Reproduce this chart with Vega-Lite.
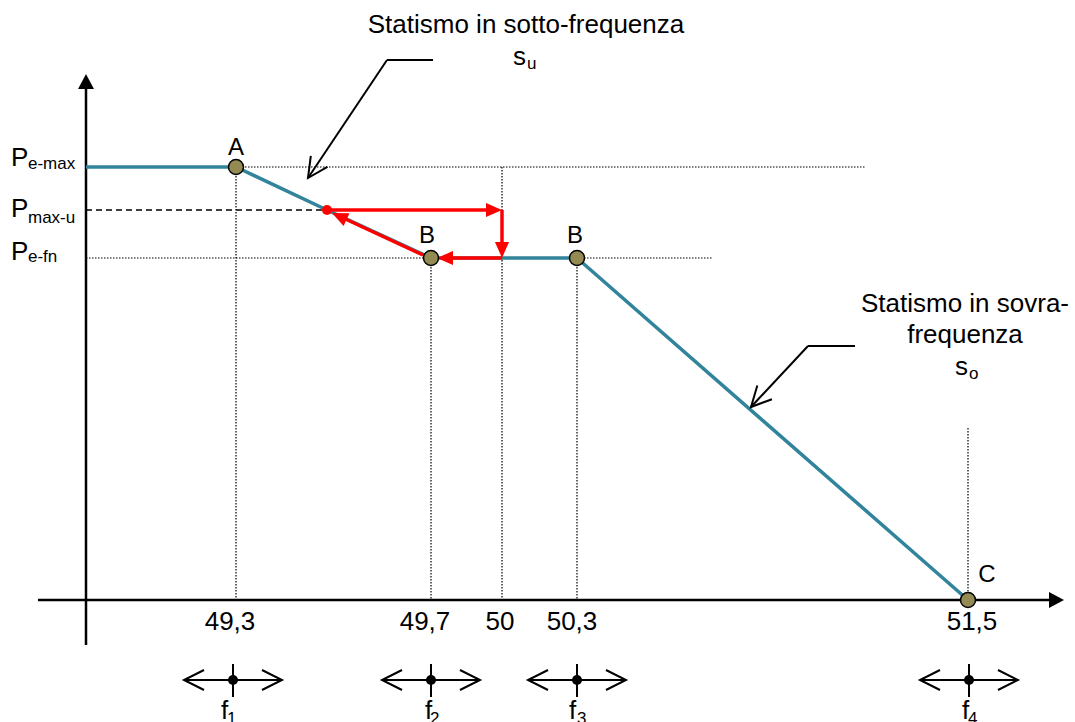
{
  "$schema": "https://vega.github.io/schema/vega-lite/v6.json",
  "width": 1075,
  "height": 722,
  "autosize": "none",
  "padding": 0,
  "background": "white",
  "config": {"view": {"stroke": null}},
  "datasets": {
    "dotted": [
      {"x": 150, "y": 433, "x2": 779, "y2": 433},
      {"x": 0, "y": 342, "x2": 627, "y2": 342},
      {"x": 150, "y": 433, "x2": 150, "y2": 0},
      {"x": 345, "y": 342, "x2": 345, "y2": 0},
      {"x": 416, "y": 433, "x2": 416, "y2": 0},
      {"x": 491, "y": 342, "x2": 491, "y2": 0},
      {"x": 882, "y": 172, "x2": 882, "y2": 0}
    ],
    "dashed": [
      {"x": 0, "y": 390, "x2": 324, "y2": 390}
    ],
    "axes": [
      {"x": 0, "y": -45, "x2": 0, "y2": 515},
      {"x": -48, "y": 0, "x2": 966, "y2": 0}
    ],
    "axisHeads": [
      {"x": 0, "y": 526, "a": -90},
      {"x": 978, "y": 0, "a": 0}
    ],
    "curve": [
      {"x": 0, "y": 433},
      {"x": 150, "y": 433},
      {"x": 241, "y": 390},
      {"x": 345, "y": 342},
      {"x": 416, "y": 342},
      {"x": 491, "y": 342},
      {"x": 882, "y": 0}
    ],
    "red": [
      {"x": 241, "y": 390, "x2": 406, "y2": 390},
      {"x": 416, "y": 390, "x2": 416, "y2": 352},
      {"x": 416, "y": 342, "x2": 361, "y2": 342},
      {"x": 337, "y": 345, "x2": 255, "y2": 383}
    ],
    "redHeads": [
      {"x": 416, "y": 390, "a": 0},
      {"x": 416, "y": 342, "a": 90},
      {"x": 351, "y": 342, "a": 180},
      {"x": 246, "y": 387, "a": 204.8}
    ],
    "redDot": [
      {"x": 241, "y": 390}
    ],
    "markers": [
      {"x": 150, "y": 433, "name": "A"},
      {"x": 345, "y": 342, "name": "B"},
      {"x": 491, "y": 342, "name": "B"},
      {"x": 882, "y": 0, "name": "C"}
    ],
    "callouts": [
      {"x": 347, "y": 540, "x2": 301, "y2": 540},
      {"x": 301, "y": 540, "x2": 222, "y2": 422},
      {"x": 769, "y": 254, "x2": 722, "y2": 254},
      {"x": 722, "y": 254, "x2": 665, "y2": 193}
    ],
    "openHeads": [
      {"x": 222, "y": 422, "a": 123.8},
      {"x": 665, "y": 193, "a": 133},
      {"x": 98, "y": -80, "a": 180},
      {"x": 196, "y": -80, "a": 0},
      {"x": 296, "y": -80, "a": 180},
      {"x": 394, "y": -80, "a": 0},
      {"x": 442, "y": -80, "a": 180},
      {"x": 540, "y": -80, "a": 0},
      {"x": 834, "y": -80, "a": 180},
      {"x": 932, "y": -80, "a": 0}
    ],
    "freqBars": [
      {"x": 98, "y": -80, "x2": 196, "y2": -80},
      {"x": 147, "y": -64, "x2": 147, "y2": -97},
      {"x": 296, "y": -80, "x2": 394, "y2": -80},
      {"x": 345, "y": -64, "x2": 345, "y2": -97},
      {"x": 442, "y": -80, "x2": 540, "y2": -80},
      {"x": 491, "y": -64, "x2": 491, "y2": -97},
      {"x": 834, "y": -80, "x2": 932, "y2": -80},
      {"x": 883, "y": -64, "x2": 883, "y2": -97}
    ],
    "freqDots": [
      {"x": 147, "y": -80},
      {"x": 345, "y": -80},
      {"x": 491, "y": -80},
      {"x": 883, "y": -80}
    ],
    "texts": [
      {"role": "bigc", "x": 440, "y": 567, "t": "Statismo in sotto-frequenza"},
      {"role": "bigc", "x": 879, "y": 288, "t": "Statismo in sovra-"},
      {"role": "bigc", "x": 879, "y": 257, "t": "frequenza"},
      {"role": "bigc", "x": 144, "y": -30, "t": "49,3"},
      {"role": "bigc", "x": 339, "y": -30, "t": "49,7"},
      {"role": "bigc", "x": 414, "y": -30, "t": "50"},
      {"role": "bigc", "x": 486, "y": -30, "t": "50,3"},
      {"role": "bigc", "x": 886, "y": -30, "t": "51,5"},
      {"role": "bigl", "x": 427, "y": 535, "t": "s"},
      {"role": "bigl", "x": 869, "y": 225, "t": "s"},
      {"role": "bigl", "x": -75, "y": 434, "t": "P"},
      {"role": "bigl", "x": -75, "y": 383, "t": "P"},
      {"role": "bigl", "x": -75, "y": 340, "t": "P"},
      {"role": "bigl", "x": 135, "y": -119, "t": "f"},
      {"role": "bigl", "x": 339, "y": -119, "t": "f"},
      {"role": "bigl", "x": 483, "y": -119, "t": "f"},
      {"role": "bigl", "x": 876, "y": -119, "t": "f"},
      {"role": "sub", "x": 441, "y": 531, "t": "u"},
      {"role": "sub", "x": 883, "y": 221, "t": "o"},
      {"role": "sub", "x": -58, "y": 431, "t": "e-max"},
      {"role": "sub", "x": -58, "y": 377, "t": "max-u"},
      {"role": "sub", "x": -58, "y": 338, "t": "e-fn"},
      {"role": "sub", "x": 141, "y": -124, "t": "1"},
      {"role": "sub", "x": 344, "y": -124, "t": "2"},
      {"role": "sub", "x": 491, "y": -124, "t": "3"},
      {"role": "sub", "x": 882, "y": -124, "t": "4"},
      {"role": "pt", "x": 150, "y": 445, "t": "A"},
      {"role": "pt", "x": 341, "y": 357, "t": "B"},
      {"role": "pt", "x": 489, "y": 357, "t": "B"},
      {"role": "pt", "x": 901, "y": 18, "t": "C"}
    ]
  },
  "encoding": {
    "x": {"field": "x", "type": "quantitative", "scale": {"domain": [-86, 989], "nice": false, "zero": false}, "axis": null},
    "y": {"field": "y", "type": "quantitative", "scale": {"domain": [-122, 600], "nice": false, "zero": false}, "axis": null}
  },
  "layer": [
    {
      "data": {"name": "dotted"},
      "mark": {"type": "rule", "color": "#000000", "strokeWidth": 1.2, "strokeDash": [1.5, 1.5]},
      "encoding": {"x2": {"field": "x2"}, "y2": {"field": "y2"}}
    },
    {
      "data": {"name": "dashed"},
      "mark": {"type": "rule", "color": "#000000", "strokeWidth": 1.5, "strokeDash": [6, 4]},
      "encoding": {"x2": {"field": "x2"}, "y2": {"field": "y2"}}
    },
    {
      "data": {"name": "axes"},
      "mark": {"type": "rule", "color": "#000000", "strokeWidth": 2.5},
      "encoding": {"x2": {"field": "x2"}, "y2": {"field": "y2"}}
    },
    {
      "data": {"name": "axisHeads"},
      "mark": {"type": "point", "shape": "M0,0L-1,-0.53L-1,0.53Z", "filled": true, "fill": "#000000", "strokeWidth": 0, "size": 900, "opacity": 1},
      "encoding": {"angle": {"field": "a", "type": "quantitative", "scale": null}}
    },
    {
      "data": {"name": "curve"},
      "mark": {"type": "line", "color": "#31849B", "strokeWidth": 3.5, "strokeJoin": "round"},
      "encoding": {"order": {"field": "x", "type": "quantitative"}}
    },
    {
      "data": {"name": "red"},
      "mark": {"type": "rule", "color": "#FF0000", "strokeWidth": 3.5},
      "encoding": {"x2": {"field": "x2"}, "y2": {"field": "y2"}}
    },
    {
      "data": {"name": "redHeads"},
      "mark": {"type": "point", "shape": "M0,0L-1,-0.44L-1,0.44Z", "filled": true, "fill": "#FF0000", "strokeWidth": 0, "size": 1024, "opacity": 1},
      "encoding": {"angle": {"field": "a", "type": "quantitative", "scale": null}}
    },
    {
      "data": {"name": "redDot"},
      "mark": {"type": "point", "shape": "circle", "filled": true, "fill": "#FF0000", "strokeWidth": 0, "size": 100, "opacity": 1}
    },
    {
      "data": {"name": "markers"},
      "mark": {"type": "point", "shape": "circle", "filled": true, "fill": "#948A54", "stroke": "#000000", "strokeWidth": 1.5, "size": 225, "opacity": 1}
    },
    {
      "data": {"name": "callouts"},
      "mark": {"type": "rule", "color": "#000000", "strokeWidth": 2},
      "encoding": {"x2": {"field": "x2"}, "y2": {"field": "y2"}}
    },
    {
      "data": {"name": "freqBars"},
      "mark": {"type": "rule", "color": "#000000", "strokeWidth": 2},
      "encoding": {"x2": {"field": "x2"}, "y2": {"field": "y2"}}
    },
    {
      "data": {"name": "openHeads"},
      "mark": {"type": "point", "shape": "M-1,-0.5L0,0L-1,0.5", "filled": false, "fill": null, "stroke": "#000000", "strokeWidth": 2, "size": 1600, "opacity": 1},
      "encoding": {"angle": {"field": "a", "type": "quantitative", "scale": null}}
    },
    {
      "data": {"name": "freqDots"},
      "mark": {"type": "point", "shape": "circle", "filled": true, "fill": "#000000", "strokeWidth": 0, "size": 100, "opacity": 1}
    },
    {
      "data": {"name": "texts"},
      "transform": [{"filter": "datum.role === 'bigc'"}],
      "mark": {"type": "text", "font": "Liberation Sans", "fontSize": 26, "align": "center", "baseline": "alphabetic", "color": "#000000"},
      "encoding": {"text": {"field": "t"}}
    },
    {
      "data": {"name": "texts"},
      "transform": [{"filter": "datum.role === 'bigl'"}],
      "mark": {"type": "text", "font": "Liberation Sans", "fontSize": 26, "align": "left", "baseline": "alphabetic", "color": "#000000"},
      "encoding": {"text": {"field": "t"}}
    },
    {
      "data": {"name": "texts"},
      "transform": [{"filter": "datum.role === 'sub'"}],
      "mark": {"type": "text", "font": "Liberation Sans", "fontSize": 17, "align": "left", "baseline": "alphabetic", "color": "#000000"},
      "encoding": {"text": {"field": "t"}}
    },
    {
      "data": {"name": "texts"},
      "transform": [{"filter": "datum.role === 'pt'"}],
      "mark": {"type": "text", "font": "Liberation Sans", "fontSize": 24, "align": "center", "baseline": "alphabetic", "color": "#000000"},
      "encoding": {"text": {"field": "t"}}
    }
  ]
}
